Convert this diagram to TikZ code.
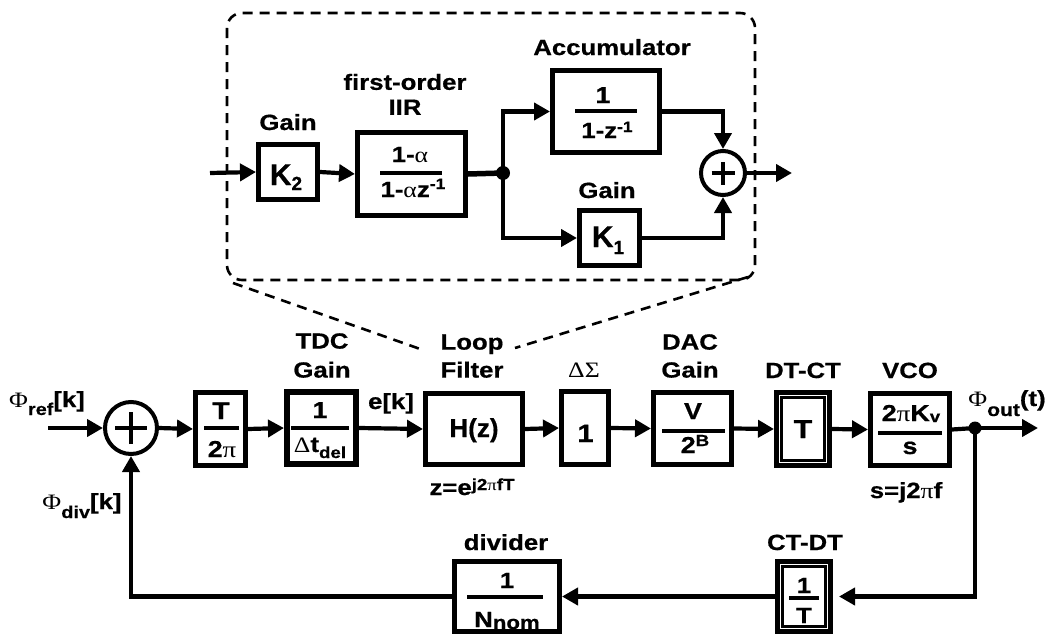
\documentclass[tikz,border=0pt]{standalone}
\usepackage{fontspec}
\setmainfont{Liberation Sans}[BoldFeatures={FakeBold=0.6}]
\newfontfamily\nsp{Liberation Sans}[BoldFeatures={FakeBold=0.6}]
\newfontfamily\grfont{Liberation Serif}
\usetikzlibrary{arrows.meta}
\newcommand\fs[1]{\fontsize{#1}{#1}\selectfont}
\newcommand\grk[1]{{\grfont\mdseries #1}}
\newcommand\wide[1]{\scalebox{1.17}[1]{#1}}
\newcommand\mysub[3]{\raisebox{-#1}{\fs{#2}#3}}
\newcommand\mysup[3]{\raisebox{#1}{\fs{#2}#3}}
\begin{document}
\begin{tikzpicture}[x=1pt,y=-1pt,
  box/.style={draw, line width=5pt, inner sep=0},
  lab/.style={inner sep=0, anchor=base, font=\bfseries\fs{22}},
  mlab/.style={inner sep=0, anchor=south, align=center, font=\bfseries\fontsize{22}{#1}\selectfont},
  fr/.style={inner sep=0, anchor=base, font=\bfseries\fs{#1}},
  bar/.style={line width=4pt},
  ln/.style={line width=4.2pt},
  arr/.style={line width=4.2pt, -{Triangle[length=16pt,width=17pt]}},
  sumc/.style={circle, draw, line width=4pt, inner sep=0},
  dot/.style={circle, fill, inner sep=0},
  dsh/.style={line width=2.6pt, dash pattern=on 10pt off 7pt}
]
\useasboundingbox (0,0) rectangle (1049,637);

% ---------------- inset (loop filter detail) ----------------
\draw[dsh, rounded corners=15pt] (227,13) rectangle (755,280);
\coordinate (dl1) at (233,283);
\coordinate (dl2) at (423,350);
\coordinate (dr1) at (748,277);
\coordinate (dr2) at (515,348);
\draw[dsh] (dl1) -- (dl2);
\draw[dsh] (dr1) -- (dr2);

\node[box, minimum width=59pt, minimum height=55pt] (k2) at (288,172) {};
\node[fr=30] (k2t) at (286,185) {\nsp K\raisebox{-5pt}{\fs{19}2}};
\node[lab] (k2l) at (288,130) {\wide{Gain}};

\node[box, minimum width=108pt, minimum height=83pt] (iir) at (411.5,174) {};
\node[fr=22] (iirn) at (410,162) {\wide{1-\grk{α}}};
\node[fr=22] (iird) at (413,197) {\wide{1-\grk{α}z\mysup{8pt}{15}{-1}}};
\draw[bar] (380,173) -- (442,173);
\node[mlab=25] (iirl) at (405,115) {\wide{first-order}\\\wide{IIR}};

\node[dot, minimum size=14pt] (idot) at (503,173) {};

\node[box, minimum width=107pt, minimum height=82pt] (acc) at (606,111.5) {};
\node[fr=23] (accn) at (603,103) {\wide{1}};
\node[fr=22] (accd) at (607,138) {\wide{1-z\mysup{6pt}{15}{-1}}};
\draw[bar] (575,111) -- (637,111);
\node[lab] (accl) at (612,55) {\wide{Accumulator}};

\node[box, minimum width=60pt, minimum height=55pt] (k1) at (609.5,238) {};
\node[fr=30] (k1t) at (608,247) {\nsp K\raisebox{-7pt}{\fs{19}1}};
\node[lab] (k1l) at (607,198) {\wide{Gain}};

\node[sumc, minimum size=44pt] (isum) at (723,173) {};
\draw[line width=4pt] ([xshift=-11.5pt]isum.center) -- ([xshift=11.5pt]isum.center);
\draw[line width=4pt] ([yshift=-11.5pt]isum.center) -- ([yshift=11.5pt]isum.center);

\coordinate (iin) at (210,173);
\coordinate (iout) at (792,173);
\draw[arr] (iin) -- (k2.west);
\draw[arr] (k2.east) -- (iir.west);
\draw[line width=5.5pt] (iir.east) -- (idot.center);
\draw[arr] (idot.center) |- (acc.west);
\draw[arr] (idot.center) |- (k1.west);
\draw[arr] (acc.east) -| (isum.north);
\draw[arr] (k1.east) -| (isum.south);
\draw[arr] (isum.east) -- (iout);

% ---------------- main loop ----------------
\node[sumc, minimum size=52pt] (sum) at (131,428) {};
\draw[line width=4.5pt] ([xshift=-16pt]sum.center) -- ([xshift=16pt]sum.center);
\draw[line width=4.5pt] ([yshift=-16pt]sum.center) -- ([yshift=16pt]sum.center);
\node[lab] (refl) at (47,407) {\wide{\grk{Φ}\mysub{8pt}{17}{ref}[k]}};
\node[lab] (divl) at (82,509) {\wide{\grk{Φ}\mysub{9pt}{17}{div}[k]}};

\node[box, minimum width=50pt, minimum height=73pt] (b1) at (220.5,429) {};
\node[fr=24] (b1n) at (221,419) {\wide{T}};
\node[fr=23] (b1d) at (222,457) {\wide{2\grk{π}}};
\draw[bar] (204,428) -- (239,428);

\node[box, line width=6pt, minimum width=69pt, minimum height=72pt] (tdc) at (321.5,428) {};
\node[fr=23] (tdcn) at (320,418) {\wide{1}};
\node[fr=22] (tdcd) at (320,452) {\wide{\grk{Δ}t\mysub{6pt}{16}{del}}};
\draw[bar] (291,428) -- (349,428);
\node[mlab=29] (tdcl) at (322,378) {\wide{TDC}\\\wide{Gain}};
\node[lab] (ekl) at (391,409) {\wide{e[k]}};

\node[box, minimum width=97pt, minimum height=71pt] (lf) at (474,429) {};
\node[fr=26] (lft) at (474,437) {\nsp H(z)};
\node[mlab=28] (lfl) at (472,378) {\wide{Loop}\\\wide{Filter}};
\node[lab] (zl) at (472,495) {\wide{z=e\mysup{5pt}{16}{j2\grk{π}fT}}};

\node[box, minimum width=47pt, minimum height=73pt] (ds) at (585,428) {};
\node[fr=25] (dst) at (585.5,442) {\wide{1}};
\node[lab, font=\fs{22}] (dsl) at (584,377) {\wide{\grk{ΔΣ}}};

\node[box, minimum width=78pt, minimum height=72pt] (dac) at (692.5,428.5) {};
\node[fr=23] (dacn) at (693,419) {\wide{V}};
\node[fr=23] (dacd) at (695,453) {\wide{2\mysup{7pt}{16}{B}}};
\draw[bar] (662,431) -- (725,431);
\node[mlab=28] (dacl) at (690,378) {\wide{DAC}\\\wide{Gain}};

\node[box, minimum width=53pt, minimum height=73pt] (dtct) at (803,429) {};
\draw[line width=3pt] (781.5,397.5) rectangle (824.5,460.5);
\node[fr=26] (dtctt) at (803,438) {\wide{T}};
\node[lab] (dtctl) at (803,378) {\wide{DT-CT}};

\node[box, minimum width=79pt, minimum height=72pt] (vco) at (910,429.5) {};
\node[fr=23] (vcon) at (911,421) {\wide{2\grk{π}K\raisebox{-1pt}{\fs{16}v}}};
\node[fr=23] (vcod) at (910,454) {\wide{s}};
\draw[bar] (878,433) -- (942,433);
\node[lab] (vcol) at (910,378) {\wide{VCO}};
\node[lab] (sl) at (906,498) {\wide{s=j2\grk{π}f}};

\node[dot, minimum size=13pt] (odot) at (975,428) {};
\node[lab] (outl) at (1007,406) {\wide{\grk{Φ}\mysub{10pt}{18}{out}(t)}};

\node[box, minimum width=53pt, minimum height=70pt] (ctdt) at (804,596.5) {};
\draw[line width=3pt] (782.5,566.5) rectangle (825.5,626.5);
\node[fr=22] (ctdtn) at (804,593) {\wide{1}};
\node[fr=22] (ctdtd) at (804,623) {\wide{T}};
\draw[bar] (789,598) -- (819,598);
\node[lab] (ctdtl) at (805,550) {\wide{CT-DT}};

\node[box, minimum width=105pt, minimum height=70pt] (dv) at (507,596.5) {};
\node[fr=22] (dvn) at (507,588) {\wide{1}};
\node[fr=22] (dvd) at (507,627) {\wide{N\mysub{2pt}{19}{nom}}};
\draw[bar] (467,597) -- (543,597);
\node[lab] (dvl) at (506,550) {\wide{divider}};

\coordinate (in) at (48,428);
\coordinate (out) at (1038,428);
\draw[arr] (in) -- (sum.west);
\draw[arr] (sum.east) -- (b1.west);
\draw[arr] (b1.east) -- (tdc.west);
\draw[arr] (tdc.east) -- (lf.west);
\draw[arr] (lf.east) -- (ds.west);
\draw[arr] (ds.east) -- (dac.west);
\draw[arr] (dac.east) -- (dtct.west);
\draw[arr] (dtct.east) -- (vco.west);
\draw[ln] (vco.east) -- (odot.center);
\draw[arr] (odot.center) -- (out);
\draw[arr, shorten >=6pt] (odot.center) |- (ctdt.east);
\draw[arr] (ctdt.west) -- (dv.east);
\draw[arr] (dv.west) -| (sum.south);
\end{tikzpicture}
\end{document}
